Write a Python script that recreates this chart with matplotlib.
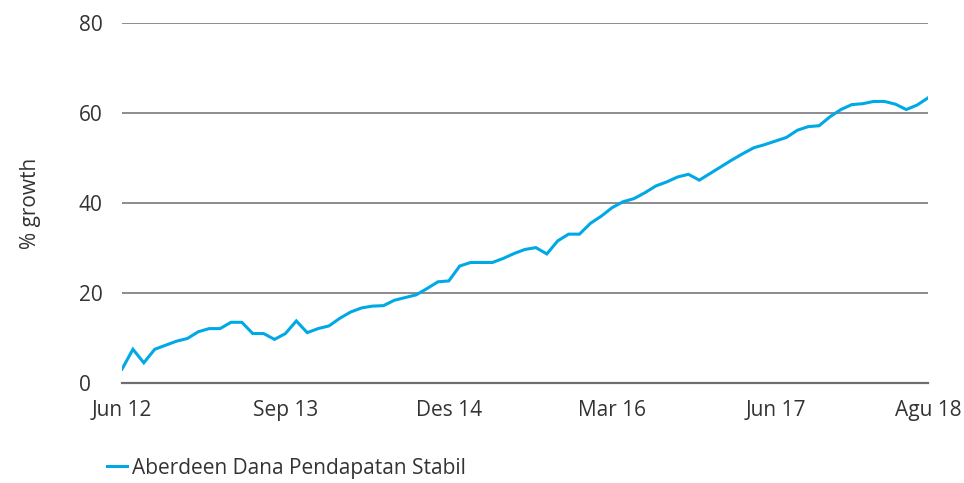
import matplotlib.pyplot as plt
import numpy as np

plt.rcParams['font.family'] = ['Open Sans', 'DejaVu Sans']

# monthly % growth, Jun 12 .. Agu 18
growth = [3.1, 7.5, 4.5, 7.5, 8.4, 9.3, 9.9, 11.4, 12.1, 12.1,
          13.5, 13.5, 11.0, 11.0, 9.7, 11.0, 13.8, 11.2, 12.1, 12.7,
          14.4, 15.8, 16.7, 17.1, 17.2, 18.4, 19.0, 19.6, 21.0, 22.5,
          22.7, 26.0, 26.8, 26.8, 26.8, 27.7, 28.8, 29.7, 30.1, 28.7,
          31.6, 33.1, 33.1, 35.5, 37.1, 39.0, 40.3, 41.0, 42.3, 43.8,
          44.7, 45.8, 46.4, 45.1, 46.6, 48.1, 49.6, 51.0, 52.3, 53.0,
          53.8, 54.6, 56.2, 57.0, 57.2, 59.2, 60.8, 61.9, 62.1, 62.6,
          62.6, 62.0, 60.8, 61.8, 63.4]
tick_pos = [0, 15, 30, 45, 60, 74]
tick_labels = ['Jun 12', 'Sep 13', 'Des 14', 'Mar 16', 'Jun 17', 'Agu 18']
yticks = [0, 20, 40, 60, 80]
series_name = 'Aberdeen Dana Pendapatan Stabil'

fig = plt.figure(figsize=(9.64, 4.83), dpi=100)
ax = fig.add_axes([0.1266, 0.207, 0.8361, 0.745])

x = np.arange(len(growth))
line, = ax.plot(x, growth, color='#00a9e6', lw=2.2, zorder=3, solid_joinstyle='miter')

ax.set_xlim(0, len(growth) - 1)
ax.set_ylim(0, 80)
ax.set_yticks(yticks)
ax.set_xticks(tick_pos)
ax.set_xticklabels(tick_labels)
ax.grid(axis='y', color='#8c8c8c', lw=1.4)
ax.set_axisbelow(True)

for s in ['top', 'right', 'left']:
    ax.spines[s].set_visible(False)
ax.spines['bottom'].set_color('#6e6e6e')
ax.spines['bottom'].set_linewidth(1.6)

ax.tick_params(axis='y', length=0, pad=31, labelsize=15, labelcolor='#333333')
for t in ax.get_yticklabels():
    t.set_horizontalalignment('left')
ax.tick_params(axis='x', length=0, pad=12, labelsize=15, labelcolor='#333333')
ax.set_ylabel('% growth', fontsize=15, color='#333333')
ax.yaxis.set_label_coords(-0.101, 0.5)

fig.legend([line], [series_name], loc='lower left', bbox_to_anchor=(0.092, -0.03),
           frameon=False, fontsize=15, handlelength=0.95, handletextpad=0.25,
           labelcolor='#333333')

plt.savefig('out.png', dpi=100)
